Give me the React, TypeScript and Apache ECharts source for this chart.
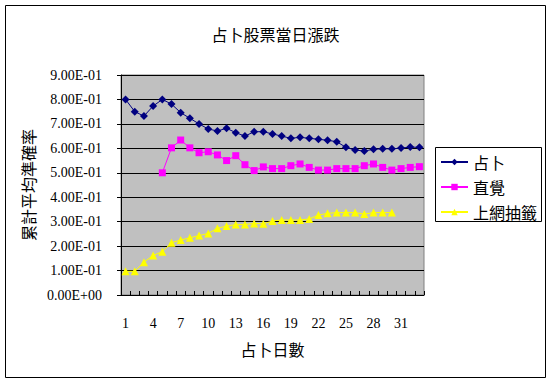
import React, { useEffect, useRef } from "react";
import * as echarts from "echarts";

const categories: string[] = Array.from({ length: 33 }, (_, i) => String(i + 1));

const divination: number[] = [
  0.8, 0.75, 0.732, 0.773, 0.8, 0.781, 0.746, 0.723, 0.7, 0.679, 0.671, 0.682,
  0.664, 0.65, 0.668, 0.668, 0.659, 0.65, 0.641, 0.645, 0.641, 0.637, 0.633,
  0.627, 0.604, 0.593, 0.589, 0.596, 0.598, 0.598, 0.601, 0.605, 0.604,
];

const intuition: (number | null)[] = [
  null, null, null, null, 0.5, 0.602, 0.634, 0.602, 0.582, 0.586, 0.573, 0.55,
  0.57, 0.533, 0.509, 0.524, 0.517, 0.517, 0.529, 0.536, 0.522, 0.511, 0.511,
  0.517, 0.517, 0.517, 0.529, 0.536, 0.522, 0.511, 0.517, 0.522, 0.525,
];

const onlineDraw: (number | null)[] = [
  0.097, 0.097, 0.134, 0.162, 0.177, 0.214, 0.225, 0.234, 0.243, 0.252, 0.273,
  0.282, 0.288, 0.288, 0.293, 0.291, 0.303, 0.307, 0.307, 0.307, 0.311, 0.327,
  0.334, 0.337, 0.337, 0.337, 0.331, 0.337, 0.337, 0.337, null, null, null,
];

const seriesNames = ["占卜", "直覺", "上網抽籤"];
const title = "占卜股票當日漲跌";
const xName = "占卜日數";
const yName = "累計平均準確率";

const CJK = '"Noto Sans CJK TC", "Noto Sans CJK SC", sans-serif';
const SERIF = '"Liberation Serif", "DejaVu Serif", serif';

function fmtExp(v: number): string {
  if (Math.abs(v) < 1e-12) return "0.00E+00";
  let e = Math.floor(Math.log10(Math.abs(v)) + 1e-9);
  let m = v / Math.pow(10, e);
  if (Math.round(m * 100) / 100 >= 10) {
    m /= 10;
    e += 1;
  }
  const sign = e < 0 ? "-" : "+";
  const ae = Math.abs(e);
  return m.toFixed(2) + "E" + sign + (ae < 10 ? "0" + ae : String(ae));
}

export default function App() {
  const ref = useRef<HTMLDivElement>(null);
  useEffect(() => {
    if (!ref.current) return;
    const chart = echarts.init(ref.current, undefined, { renderer: "svg" });
    chart.setOption({
      animation: false,
      backgroundColor: "#ffffff",
      graphic: [
        {
          type: "rect",
          shape: { x: 5.5, y: 5.5, width: 540, height: 372 },
          style: { fill: "#ffffff", stroke: "#000000", lineWidth: 1 },
          z: -10,
          silent: true,
        },
        {
          type: "rect",
          shape: { x: 435.5, y: 147.5, width: 106, height: 74 },
          style: { fill: "#ffffff", stroke: "#000000", lineWidth: 1 },
          z: -5,
          silent: true,
        },
      ],
      title: {
        text: title,
        left: "center",
        top: 21,
        textStyle: { fontFamily: CJK, fontSize: 16, fontWeight: "normal", color: "#000" },
      },
      legend: {
        orient: "vertical",
        left: 440,
        top: 154,
        padding: 0,
        itemWidth: 27,
        itemHeight: 8,
        itemGap: 9,
        data: seriesNames,
        textStyle: { fontFamily: CJK, fontSize: 16, color: "#000", padding: [0, 0, 0, 0] },
      },
      grid: {
        left: 121,
        top: 75,
        right: 127,
        bottom: 88,
        show: true,
        backgroundColor: "#C0C0C0",
        borderColor: "#808080",
        borderWidth: 1,
      },
      xAxis: {
        type: "category",
        data: categories,
        boundaryGap: true,
        name: xName,
        nameLocation: "middle",
        nameGap: 46,
        nameTextStyle: { fontFamily: CJK, fontSize: 16, color: "#000" },
        axisLine: { lineStyle: { color: "#000", width: 1 } },
        axisTick: { show: true, inside: true, length: 4, interval: 0, lineStyle: { color: "#000" } },
        axisLabel: {
          interval: 2,
          margin: 21,
          fontFamily: SERIF,
          fontSize: 14,
          color: "#000",
        },
        splitLine: { show: false },
      },
      yAxis: {
        type: "value",
        min: 0,
        max: 0.9,
        interval: 0.1,
        name: yName,
        nameLocation: "middle",
        nameGap: 85,
        nameTextStyle: { fontFamily: CJK, fontSize: 16, color: "#000" },
        axisLine: { show: true, lineStyle: { color: "#000", width: 1 } },
        axisTick: { show: true, inside: false, length: 4, lineStyle: { color: "#000" } },
        axisLabel: {
          margin: 19,
          fontFamily: SERIF,
          fontSize: 14,
          color: "#000",
          formatter: (v: number) => fmtExp(v),
        },
        splitLine: { show: true, lineStyle: { color: "#000", width: 1 } },
      },
      series: [
        {
          name: seriesNames[0],
          type: "line",
          data: divination,
          symbol: "diamond",
          symbolSize: 8,
          showAllSymbol: true,
          itemStyle: { color: "#000080" },
          lineStyle: { color: "#000080", width: 1 },
        },
        {
          name: seriesNames[1],
          type: "line",
          data: intuition,
          symbol: "rect",
          symbolSize: 7,
          showAllSymbol: true,
          connectNulls: false,
          itemStyle: { color: "#FF00FF" },
          lineStyle: { color: "#FF00FF", width: 1 },
        },
        {
          name: seriesNames[2],
          type: "line",
          data: onlineDraw,
          symbol: "triangle",
          symbolSize: 8,
          showAllSymbol: true,
          itemStyle: { color: "#FFFF00" },
          lineStyle: { color: "#FFFF00", width: 1 },
        },
      ],
    });
    return () => chart.dispose();
  }, []);
  return (
    <div
      ref={ref}
      style={{ position: "fixed", left: 0, top: 0, width: 551, height: 383 }}
    />
  );
}
